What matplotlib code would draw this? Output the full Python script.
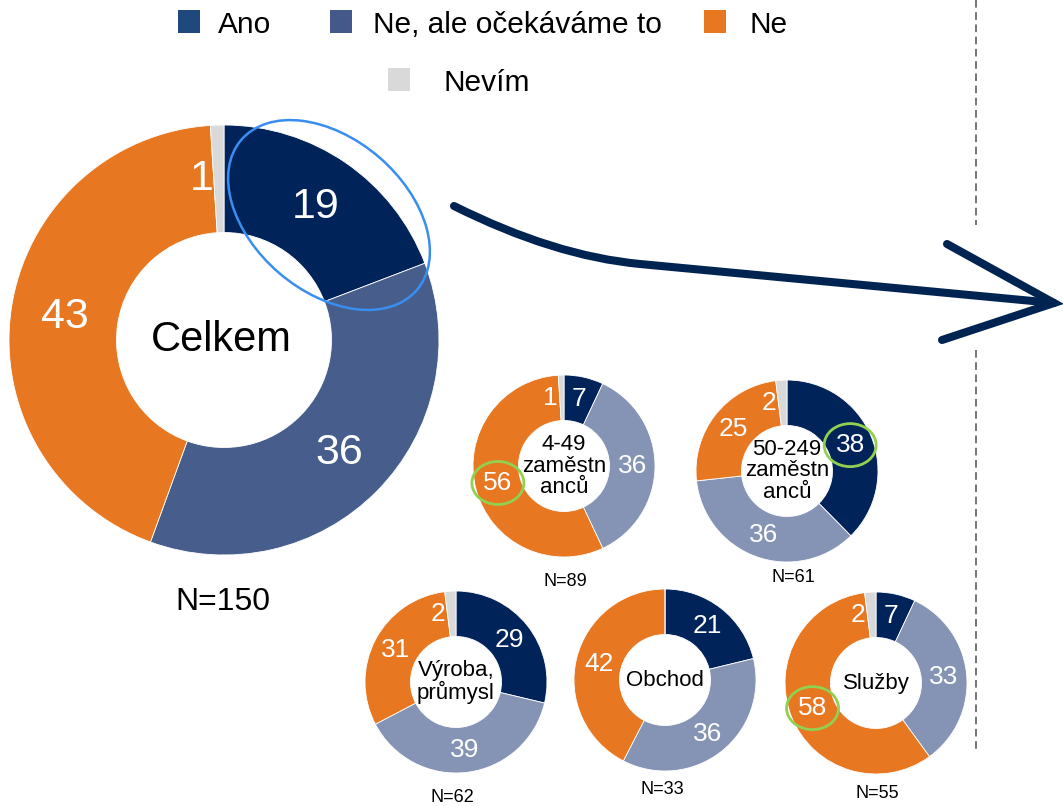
import matplotlib
matplotlib.use("Agg")
import matplotlib.pyplot as plt
import numpy as np
from matplotlib.patches import Ellipse, Rectangle, PathPatch
from matplotlib.path import Path

plt.rcParams['font.family'] = ['Liberation Sans', 'DejaVu Sans']

W, H = 1063, 806

# ---------------- data ----------------
categories = ["Ano", "Ne, ale očekáváme to", "Ne", "Nevím"]
total_label = "Celkem"
total_values = [19, 36, 43, 1]
total_n = 150
group_names = ["4-49\nzaměstn\nanců", "50-249\nzaměstn\nanců", "Výroba,\nprůmysl", "Obchod", "Služby"]
group_values_1 = [7, 36, 56, 1]
group_values_2 = [38, 36, 25, 2]
group_values_3 = [29, 39, 31, 2]
group_values_4 = [21, 36, 42, 0]
group_values_5 = [7, 33, 58, 2]
group_n = [89, 61, 62, 33, 55]
highlight = [2, 0, None, None, 2]   # category index circled in green

# ---------------- styles ----------------
legend_colors = ["#1F497D", "#44598A", "#E87722", "#D9D9D9"]
big_colors = ["#00245A", "#475E8C", "#E87722", "#D9D9D9"]
small_colors = ["#00245A", "#8594B4", "#E87722", "#D9D9D9"]
navy = "#002452"

fig = plt.figure(figsize=(W / 100, H / 100), dpi=100)
ax = fig.add_axes([0, 0, 1, 1])


def Y(y):
    return H - y


def donut(vals, cx, cy, r, colors, fs, tiny_shift):
    wedges, _ = ax.pie(vals, colors=colors, radius=r, center=(cx, Y(cy)),
                       startangle=90, counterclock=False, normalize=True,
                       wedgeprops=dict(width=r * 0.5, edgecolor='white', linewidth=0.6))
    rm = r * 0.75
    pos = []
    for w, v in zip(wedges, vals):
        if v == 0:
            pos.append(None)
            continue
        if v <= 2:
            a = np.deg2rad(max(w.theta1, w.theta2))
            x = cx + rm * np.cos(a) + tiny_shift
            y = Y(cy) + rm * np.sin(a)
            ax.text(x, y, str(v), color='white', fontsize=fs, ha='right', va='center', zorder=5)
            pos.append((x, y))
        else:
            a = np.deg2rad((w.theta1 + w.theta2) / 2)
            x = cx + rm * np.cos(a)
            y = Y(cy) + rm * np.sin(a)
            ax.text(x, y, str(v), color='white', fontsize=fs, ha='center', va='center', zorder=5)
            pos.append((x, y))
    return pos


# big donut
donut(total_values, 224, 340, 215, big_colors, 31, 0)
ax.text(221, Y(340), total_label, fontsize=30, ha='center', va='center', zorder=5)
ax.text(223, Y(602), f"N={total_n}", fontsize=23, ha='center', va='center')

# small donuts
group_values = [group_values_1, group_values_2, group_values_3, group_values_4, group_values_5]
centers = [(564, 466), (787, 471), (456, 682), (665, 680), (876, 683)]
n_pos = [(565, 582), (793, 578), (452, 797), (662, 790), (877, 793)]
for name, vals, (cx, cy), (nx, ny), n, hl in zip(group_names, group_values, centers, n_pos, group_n, highlight):
    pos = donut(vals, cx, cy, 91, small_colors, 19, -2)
    ax.text(cx, Y(cy), name, fontsize=16, ha='center', va='center', linespacing=1.02, zorder=5)
    ax.text(nx, Y(ny), f"N={n}", fontsize=13, ha='center', va='center')
    if hl is not None and pos[hl] is not None:
        ax.add_patch(Ellipse(pos[hl], 52, 43, fill=False, ec='#92D050', lw=2.0, zorder=6))

# blue highlight ellipse around the "Ano" slice
ax.add_patch(Ellipse((329, Y(215)), 231, 153, angle=-40.5, fill=False, ec='#3A8EF0', lw=1.8, zorder=6))

# dashed separator
ax.plot([976, 976], [Y(0), Y(225)], color='#505050', lw=1.1, ls=(0, (5, 3)))
ax.plot([976, 976], [Y(350), Y(752)], color='#505050', lw=1.1, ls=(0, (5, 3)))

# arrow
shaft = Path([(454, Y(206)), (554, Y(256)), (640, Y(264)), (1054, Y(303))],
             [Path.MOVETO, Path.CURVE3, Path.CURVE3, Path.LINETO])
ax.add_patch(PathPatch(shaft, fill=False, ec=navy, lw=5.8, capstyle='round', zorder=7))
ax.plot([947, 1054, 942], [Y(244), Y(303), Y(340)], color=navy, lw=5.8,
        solid_capstyle='round', solid_joinstyle='miter', zorder=7)

# legend (manual layout)
sq = [(178, 10), (330, 10), (704, 10), (388, 68)]
tx = [(218, 33), (373, 33), (749, 33), (444, 91)]
for cat, col, (sx, sy), (lx, ly) in zip(categories, legend_colors, sq, tx):
    ax.add_patch(Rectangle((sx, Y(sy + 23)), 22, 23, color=col, lw=0))
    ax.text(lx, Y(ly), cat, fontsize=21.5, ha='left', va='baseline')

ax.set_xlim(0, W)
ax.set_ylim(0, H)
ax.set_aspect('equal')
ax.axis('off')

fig.savefig("out.png", dpi=100)
